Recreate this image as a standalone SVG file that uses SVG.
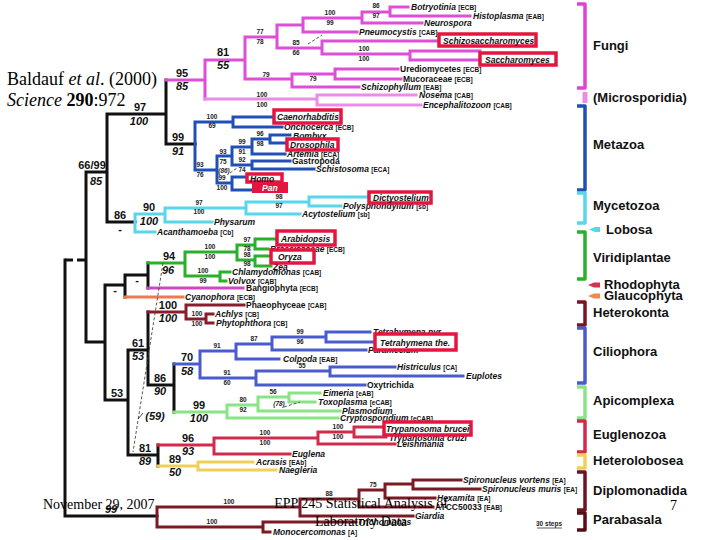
<svg xmlns="http://www.w3.org/2000/svg" width="720" height="540" viewBox="0 0 720 540">
<style>
.ln{fill:none;stroke-width:3;stroke-linecap:square}
.k{stroke:#111}.fu{stroke:#dd4fd6}.mi{stroke:#ea8de4}.me{stroke:#2050b5}.my{stroke:#58d6ec}.vi{stroke:#2ab02a}
.ba{stroke:#d048c0}.cy{stroke:#f07850}.he{stroke:#8a1c2c}.ci{stroke:#4a5ccc}.ap{stroke:#8ae486}.eu{stroke:#d22a4a}
.hl{stroke:#f0d058}.di{stroke:#7a1a24}
.dsh{fill:none;stroke:#444;stroke-width:0.9;stroke-dasharray:3,2}
.t{font-family:"Liberation Sans",Arial,sans-serif;font-weight:bold;font-size:8.5px;fill:#111}
.i{font-style:italic}
.g{font-size:6.5px;font-style:normal}
.L{font-family:"Liberation Sans",Arial,sans-serif;font-weight:bold;font-size:11px;fill:#111;text-anchor:middle}
.S{font-family:"Liberation Sans",Arial,sans-serif;font-weight:bold;font-size:6.5px;fill:#222;text-anchor:middle}
.box{fill:#fff;stroke:#e4163f;stroke-width:3.5}
.br{fill:none;stroke-width:3.5;stroke-linejoin:round}
.C{font-family:"Liberation Sans",Arial,sans-serif;font-weight:bold;font-size:13px;fill:#111}
.sl{font-family:"Liberation Serif","Times New Roman",serif;fill:#000}
</style>
<rect width="720" height="540" fill="#fff"/>

<g id="connectors">
<path class="ln k" d="M107,114 H166 M166,80 V144 M166,144 H195 M107,114 V222 M107,222 H135 M86,172 H107 M86,172 V342 M86,342 H105 M105,285 V400 M105,285 H125 M125,275 V297 M125,275 H148 M148,263 V288 M105,400 H128 M128,350 V455 M128,350 H148 M148,312 V385 M148,385 H174 M174,364 V412 M128,455 H158 M158,445 V466 M65,260 V516 H157"/>
<path fill="none" stroke="#111" stroke-width="3" stroke-dasharray="8,4" d="M65,260 H86"/>
<path class="ln fu" d="M166,80 H205 M205,60 V99 M205,60 H245 M245,37 V79 M245,37 H277 M277,25 V48 M277,25 H303 M303,18 V32 M303,18 H362 M362,12 V23 M362,12 H390 M390,7 V16 M390,7 H408 M390,16 H470 M362,23 H422 M303,32 H357 M277,48 H322 M322,41 V54 M322,41 H439 M322,54 H410 M410,51 V60 M410,51 H480 M410,60 H480 M245,79 H292 M292,74 V87 M292,74 H335 M335,69 V79 M335,69 H398 M335,79 H401 M292,87 H359"/>
<path class="ln mi" d="M205,99 H317 M317,95 V105 M317,95 H416 M317,105 H421"/>
<path class="ln me" d="M195,122 V170 M195,122 H233 M233,117 V127 M233,117 H274 M233,127 H282 M195,170 H217 M217,156 V183 M217,156 H232 M232,147 V165 M232,147 H252 M252,139 V154 M252,139 H270 M270,135 V143 M270,135 H290 M270,143 H287 M252,154 H285 M232,165 H252 M252,161 V169 M252,161 H290 M252,169 H314 M217,183 H232 M232,177 V190 M232,177 H247 M232,190 H252"/>
<path class="ln my" d="M135,214 V232 M135,214 H165 M165,208 V222 M165,208 H246 M246,202 V214 M246,202 H309 M309,197 V206 M309,197 H369 M309,206 H341 M246,214 H300 M165,222 H212 M135,232 H155"/>
<path class="ln vi" d="M148,263 H185 M185,252 V276 M185,252 H237 M237,245 V260 M237,245 H255 M255,239 V249 M255,239 H277 M255,249 H268 M237,260 H255 M255,256 V266 M255,256 H271 M255,266 H271 M185,276 H220 M220,272 V281 M220,272 H230 M220,281 H226"/>
<path class="ln ba" d="M148,288 H243"/>
<path class="ln cy" d="M125,297 H183"/>
<path class="ln he" d="M148,312 H186 M186,305 V319 M186,305 H244 M186,319 H206 M206,314 V323 M206,314 H213 M206,323 H213"/>
<path class="ln ci" d="M174,364 H200 M200,351 V378 M200,351 H236 M236,344 V359 M236,344 H272 M272,337 V350 M272,337 H326 M326,332 V342 M326,332 H370 M326,342 H375 M272,350 H366 M236,359 H279 M200,378 H256 M256,371 V385 M256,371 H330 M330,367 V376 M330,367 H395 M330,376 H463 M256,385 H365"/>
<path class="ln ap" d="M174,412 H227 M227,405 V418 M227,405 H258 M258,397 V411 M258,397 H289 M289,393 V402 M289,393 H320 M289,402 H315 M258,411 H340 M227,418 H338"/>
<path class="ln eu" d="M158,445 H214 M214,438 V454 M214,438 H318 M318,432 V444 M318,432 H354 M354,427 V437 M354,427 H384 M354,437 H386 M318,444 H395 M214,454 H290"/>
<path class="ln hl" d="M158,466 H198 M198,462 V470 M198,462 H253 M198,470 H276"/>
<path class="ln di" d="M157,507 V527 M157,507 H300 M300,499 V516 M300,499 H359 M359,490 V507 M359,490 H385 M385,484 V498 M385,484 H413 M413,480 V489 M413,480 H461 M413,489 H480 M385,498 H435 M359,507 H433 M300,516 H413 M157,527 H263 M263,522 V532 M263,522 H356 M263,532 H270"/>
<path class="dsh" d="M308,44 L322,35"/>
<path class="dsh" d="M230,173 L237,168"/>
<path class="dsh" stroke-dasharray="4,3" d="M163,263 L133,452"/>
<path fill="none" stroke="#333" stroke-width="0.9" d="M138,419 L143,413"/>
<path class="dsh" d="M284,407 L300,402"/>
</g>

<g id="support-values">
<text class="L" x="140" y="111">97</text><text class="L i" x="139" y="125">100</text>
<text class="L" x="182" y="77">95</text><text class="L i" x="182" y="90">85</text>
<text class="L" x="223" y="56">81</text><text class="L i" x="223" y="69">55</text>
<text class="L" x="178" y="141">99</text><text class="L i" x="178" y="155">91</text>
<text class="L" x="92" y="169">66/99</text><text class="L i" x="96" y="185">85</text>
<text class="L" x="120" y="219">86</text><text class="L" x="120" y="233">-</text>
<text class="L" x="149" y="211">90</text><text class="L i" x="149" y="225">100</text>
<text class="L" x="169" y="260">94</text><text class="L i" x="168" y="274">96</text>
<text class="L" x="137" y="284">-</text>
<text class="L" x="115" y="294">-</text>
<text class="L" x="168" y="309">100</text><text class="L i" x="168" y="322">100</text>
<text class="L" x="138" y="347">61</text><text class="L i" x="138" y="360">53</text>
<text class="L" x="160" y="382">86</text><text class="L i" x="160" y="395">90</text>
<text class="L" x="187" y="361">70</text><text class="L i" x="187" y="375">58</text>
<text class="L" x="199" y="409">99</text><text class="L i" x="199" y="422">100</text>
<text class="L" x="117" y="397">53</text>
<text class="L i" x="155" y="420" font-weight="normal">(59)</text>
<text class="L" x="145" y="452">81</text><text class="L i" x="145" y="465">89</text>
<text class="L" x="188" y="442">96</text><text class="L i" x="188" y="455">93</text>
<text class="L" x="175" y="463">89</text><text class="L i" x="175" y="476">50</text>
<text class="L i" x="111" y="513">99</text>

<text class="S" x="376" y="8">86</text><text class="S" x="376" y="18">97</text>
<text class="S" x="330" y="15">100</text><text class="S" x="330" y="25">99</text>
<text class="S" x="260" y="34">77</text><text class="S" x="260" y="44">78</text>
<text class="S" x="296" y="45">85</text><text class="S" x="296" y="55">66</text>
<text class="S" x="364" y="51">100</text><text class="S" x="364" y="61">100</text>
<text class="S" x="266" y="77">79</text>
<text class="S" x="313" y="81">79</text>
<text class="S" x="262" y="97">100</text><text class="S" x="262" y="107">100</text>
<text class="S" x="212" y="119">100</text><text class="S" x="212" y="128">69</text>
<text class="S" x="260" y="136">96</text><text class="S" x="260" y="146">98</text>
<text class="S" x="242" y="144">99</text><text class="S" x="242" y="154">91</text>
<text class="S" x="223" y="154">93</text><text class="S" x="223" y="164">75</text>
<text class="S" x="242" y="162">92</text><text class="S" x="242" y="172">74</text>
<text class="S" x="200" y="167">93</text><text class="S" x="200" y="177">76</text>
<text class="S i" x="224" y="173">(86)</text>
<text class="S" x="222" y="180">99</text><text class="S" x="222" y="190">100</text>
<text class="S" x="199" y="205">97</text><text class="S" x="199" y="214">100</text>
<text class="S" x="279" y="199">98</text><text class="S" x="279" y="208">97</text>
<text class="S" x="210" y="249">100</text><text class="S" x="210" y="259">100</text>
<text class="S" x="247" y="242">97</text><text class="S" x="247" y="251">78</text>
<text class="S" x="247" y="257">98</text><text class="S" x="247" y="266">98</text>
<text class="S" x="203" y="273">100</text><text class="S" x="203" y="283">99</text>
<text class="S" x="197" y="316">100</text><text class="S" x="197" y="326">100</text>
<text class="S" x="217" y="348">91</text>
<text class="S" x="254" y="341">87</text>
<text class="S" x="300" y="334">99</text><text class="S" x="300" y="344">96</text>
<text class="S" x="227" y="375">91</text><text class="S" x="227" y="385">60</text>
<text class="S" x="302" y="368">55</text>
<text class="S" x="243" y="402">80</text><text class="S" x="243" y="412">92</text>
<text class="S" x="273" y="394">56</text>
<text class="S i" x="279" y="406">(78)</text>
<text class="S" x="265" y="435">100</text><text class="S" x="265" y="445">100</text>
<text class="S" x="338" y="429">100</text><text class="S" x="338" y="439">100</text>
<text class="S" x="229" y="504">100</text>
<text class="S" x="329" y="496">88</text>
<text class="S" x="373" y="487">75</text>
<text class="S" x="212" y="524">100</text>
</g>

<g id="taxa">
<g id="n-botryotinia"><text class="t i" x="411" y="10">Botryotinia <tspan class="g">[ECB]</tspan></text></g>
<g id="n-histoplasma"><text class="t i" x="473" y="19">Histoplasma <tspan class="g">[EAB]</tspan></text></g>
<g id="n-neurospora"><text class="t i" x="424" y="26">Neurospora</text></g>
<g id="n-pneumocystis"><text class="t i" x="359" y="35">Pneumocystis <tspan class="g">[CAB]</tspan></text></g>
<g id="n-urediomycetes"><text class="t" x="400" y="72">Urediomycetes <tspan class="g">[ECB]</tspan></text></g>
<g id="n-mucoraceae"><text class="t" x="403" y="82">Mucoraceae <tspan class="g">[ECB]</tspan></text></g>
<g id="n-schizophyllum"><text class="t i" x="361" y="90">Schizophyllum <tspan class="g">[EAB]</tspan></text></g>
<g id="n-nosema"><text class="t i" x="419" y="98">Nosema <tspan class="g">[CAB]</tspan></text></g>
<g id="n-encephalitozoon"><text class="t i" x="423" y="108">Encephalitozoon <tspan class="g">[CAB]</tspan></text></g>
<g id="n-onchocerca"><text class="t i" x="284" y="130">Onchocerca <tspan class="g">[ECB]</tspan></text></g>
<g id="n-bombyx"><text class="t i" x="293" y="139">Bombyx</text></g>
<g id="n-artemia"><text class="t i" x="287" y="157">Artemia <tspan class="g">[ECA]</tspan></text></g>
<g id="n-gastropoda"><text class="t" x="292" y="164">Gastropoda</text></g>
<g id="n-schistosoma"><text class="t i" x="316" y="172">Schistosoma <tspan class="g">[ECA]</tspan></text></g>
<g id="n-polysphondylium"><text class="t i" x="343" y="209">Polysphondylium <tspan class="g">[sb]</tspan></text></g>
<g id="n-acytostelium"><text class="t i" x="302" y="217">Acytostelium <tspan class="g">[sb]</tspan></text></g>
<g id="n-physarum"><text class="t i" x="214" y="225">Physarum</text></g>
<g id="n-acanthamoeba"><text class="t i" x="157" y="235">Acanthamoeba <tspan class="g">[Cb]</tspan></text></g>
<g id="n-brassicaceae"><text class="t i" x="270" y="252">Brassicaceae <tspan class="g">[ECB]</tspan></text></g>
<g id="n-zea"><text class="t i" x="273" y="270">Zea</text></g>
<g id="n-chlamydomonas"><text class="t i" x="232" y="275">Chlamydomonas <tspan class="g">[CAB]</tspan></text></g>
<g id="n-volvox"><text class="t i" x="228" y="284">Volvox <tspan class="g">[CAB]</tspan></text></g>
<g id="n-bangiophyta"><text class="t" x="246" y="291">Bangiophyta <tspan class="g">[ECB]</tspan></text></g>
<g id="n-cyanophora"><text class="t i" x="185" y="300">Cyanophora <tspan class="g">[ECB]</tspan></text></g>
<g id="n-phaeophyceae"><text class="t" x="246" y="308">Phaeophyceae <tspan class="g">[CAB]</tspan></text></g>
<g id="n-achlys"><text class="t i" x="215" y="317">Achlys <tspan class="g">[CB]</tspan></text></g>
<g id="n-phytophthora"><text class="t i" x="216" y="326">Phytophthora <tspan class="g">[CB]</tspan></text></g>
<g id="n-tetrahymena-pyr"><text class="t i" x="373" y="335">Tetrahymena pyr.</text></g>
<g id="n-paramecium"><text class="t i" x="368" y="353">Paramecium</text></g>
<g id="n-colpoda"><text class="t i" x="283" y="362">Colpoda <tspan class="g">[EAB]</tspan></text></g>
<g id="n-histriculus"><text class="t i" x="397" y="370">Histriculus <tspan class="g">[CA]</tspan></text></g>
<g id="n-euplotes"><text class="t i" x="466" y="379">Euplotes</text></g>
<g id="n-oxytrichida"><text class="t" x="367" y="388">Oxytrichida</text></g>
<g id="n-eimeria"><text class="t i" x="323" y="396">Eimeria <tspan class="g">[eAB]</tspan></text></g>
<g id="n-toxoplasma"><text class="t i" x="318" y="405">Toxoplasma <tspan class="g">[eCAB]</tspan></text></g>
<g id="n-plasmodium"><text class="t i" x="342" y="414">Plasmodium</text></g>
<g id="n-cryptosporidium"><text class="t i" x="340" y="421">Cryptosporidium <tspan class="g">[eCAB]</tspan></text></g>
<g id="n-trypanosoma-cruzi"><text class="t i" x="389" y="441">Trypanosoma cruzi</text></g>
<g id="n-leishmania"><text class="t i" x="397" y="447">Leishmania</text></g>
<g id="n-euglena"><text class="t i" x="292" y="457">Euglena</text></g>
<g id="n-acrasis"><text class="t i" x="256" y="465">Acrasis <tspan class="g">[EAb]</tspan></text></g>
<g id="n-naegleria"><text class="t i" x="279" y="473">Naegleria</text></g>
<g id="n-spironucleus-vortens"><text class="t i" x="463" y="483">Spironucleus vortens <tspan class="g">[EA]</tspan></text></g>
<g id="n-spironucleus-muris"><text class="t i" x="482" y="492">Spironucleus muris <tspan class="g">[EA]</tspan></text></g>
<g id="n-hexamita"><text class="t i" x="437" y="501">Hexamita <tspan class="g">[EA]</tspan></text></g>
<g id="n-atcc50033"><text class="t" x="435" y="510">ATCC50033 <tspan class="g">[EAB]</tspan></text></g>
<g id="n-giardia"><text class="t i" x="415" y="519">Giardia</text></g>
<g id="n-trichomonas"><text class="t i" x="358" y="525">Trichomonas</text></g>
<g id="n-monocercomonas"><text class="t i" x="273" y="535">Monocercomonas <tspan class="g">[A]</tspan></text></g>

<g id="n-schizosaccharomyces"><rect class="box" x="439" y="34" width="97" height="12"/><text class="t i" x="443" y="44">Schizosaccharomyces</text></g>
<g id="n-saccharomyces"><rect class="box" x="480" y="53" width="76" height="12"/><text class="t i" x="485" y="63">Saccharomyces</text></g>
<g id="n-caenorhabditis"><rect class="box" x="274" y="110" width="67" height="13"/><text class="t i" x="277" y="120">Caenorhabditis</text></g>
<g id="n-drosophila"><rect class="box" x="287" y="139" width="51" height="11"/><text class="t i" x="290" y="148">Drosophila</text></g>
<g id="n-homo"><rect class="box" x="247" y="174" width="35" height="8"/><text class="t i" x="250" y="182">Homo</text></g>
<g id="n-pan"><rect x="252" y="182" width="36" height="11" fill="#e4163f"/><text class="t i" x="262" y="191" fill="#fff" style="fill:#fff">Pan</text></g>
<g id="n-dictyostelium"><rect class="box" x="369" y="192" width="62" height="11"/><text class="t i" x="373" y="201">Dictyostelium</text></g>
<g id="n-arabidopsis"><rect class="box" x="277" y="231" width="58" height="14"/><text class="t i" x="281" y="242">Arabidopsis</text></g>
<g id="n-oryza"><rect class="box" x="271" y="250" width="43" height="13"/><text class="t i" x="278" y="260">Oryza</text></g>
<g id="n-tetrahymena-the"><rect class="box" x="375" y="334" width="81" height="16"/><text class="t i" x="380" y="346">Tetrahymena the.</text></g>
<g id="n-trypanosoma-brucei"><rect class="box" x="384" y="422" width="87" height="13"/><text class="t i" x="386" y="432">Trypanosoma brucei</text></g>
</g>

<g id="scale">
<text class="S" x="549" y="526" font-weight="normal">30 steps</text>
<path d="M537,528 H562" stroke="#333" stroke-width="0.8"/>
</g>

<g id="clades">
<g id="clade-fungi"><path class="br" stroke="#dd44d4" d="M577,4 H585 V88 H577"/><text class="C" x="593" y="50">Fungi</text></g>
<g id="clade-microsporidia"><path d="M585,92 V103" stroke="#ea8de4" stroke-width="5"/><text class="C" x="593" y="102" font-size="9.5">(Microsporidia)</text></g>
<g id="clade-metazoa"><path class="br" stroke="#2050b5" d="M577,106 H585 V190 H577"/><text class="C" x="593" y="149">Metazoa</text></g>
<g id="clade-mycetozoa"><path class="br" stroke="#58d6ec" d="M577,193 H585 V223 H577"/><text class="C" x="593" y="210">Mycetozoa</text></g>
<g id="clade-lobosa"><path d="M589,229.5 L595,227 H600 V232 H595 Z" fill="#58d6ec"/><text class="C" x="606" y="234">Lobosa</text></g>
<g id="clade-viridiplantae"><path class="br" stroke="#2ab02a" d="M577,232 H585 V279 H577"/><text class="C" x="593" y="262">Viridiplantae</text></g>
<g id="clade-rhodophyta"><path d="M588,285 L594,282.5 H600 V287.5 H594 Z" fill="#d93050"/><text class="C" x="604" y="289">Rhodophyta</text></g>
<g id="clade-glaucophyta"><path d="M588,296 L594,293.5 H600 V298.5 H594 Z" fill="#f08850"/><text class="C" x="604" y="300">Glaucophyta</text></g>
<g id="clade-heterokonta"><path class="br" stroke="#7a1424" d="M577,302 H585 V325 H577"/><text class="C" x="593" y="317">Heterokonta</text></g>
<g id="clade-ciliophora"><path class="br" stroke="#4a5ccc" d="M577,328 H585 V383 H577"/><text class="C" x="593" y="356">Ciliophora</text></g>
<g id="clade-apicomplexa"><path class="br" stroke="#8ae486" d="M577,387 H585 V418 H577"/><text class="C" x="593" y="405">Apicomplexa</text></g>
<g id="clade-euglenozoa"><path class="br" stroke="#d22a4a" d="M577,421 H585 V452 H577"/><text class="C" x="593" y="439">Euglenozoa</text></g>
<g id="clade-heterolobosea"><path class="br" stroke="#f0d058" d="M577,455 H585 V468 H577"/><text class="C" x="593" y="465">Heterolobosea</text></g>
<g id="clade-diplomonadida"><path class="br" stroke="#6e1420" d="M577,472 H585 V510 H577"/><text class="C" x="593" y="495">Diplomonadida</text></g>
<g id="clade-parabasala"><path class="br" stroke="#5a0c14" d="M577,513 H585 V530 H577"/><text class="C" x="593" y="524">Parabasala</text></g>
</g>

<g id="slide-text">
<text class="sl" x="7" y="85" font-size="18">Baldauf <tspan font-style="italic">et al</tspan>. (2000)</text>
<text class="sl" x="7" y="106" font-size="18"><tspan font-style="italic">Science</tspan> <tspan font-weight="bold">290</tspan>:972</text>
<text class="sl" x="43" y="509" font-size="14">November 29, 2007</text>
<text class="sl" x="361" y="508" font-size="14" text-anchor="middle">EPP 245 Statistical Analysis of</text>
<text class="sl" x="361" y="526" font-size="14" text-anchor="middle">Laboratory Data</text>
<text class="sl" x="670" y="510" font-size="14">7</text>
</g>
</svg>
